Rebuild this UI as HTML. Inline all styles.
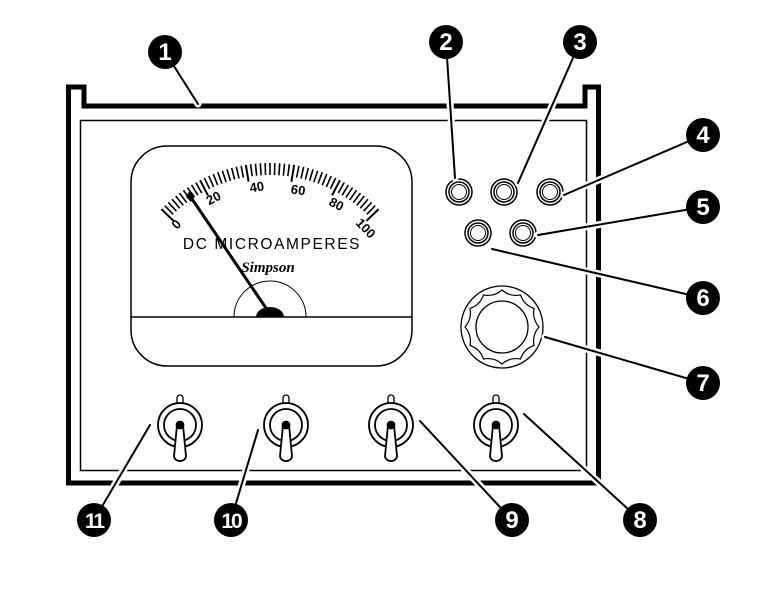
<!DOCTYPE html>
<html><head><meta charset="utf-8"><style>
body{margin:0;background:#fff}
svg{display:block}
text{font-family:"Liberation Sans",sans-serif;font-weight:bold}
</style></head><body>
<svg id="s" width="780" height="599" viewBox="0 0 780 599" xmlns="http://www.w3.org/2000/svg">
<rect width="780" height="599" fill="#fff"/>
<path d="M68.5 483 V87 H84 V106 H585 V87 H598.5 V483 Z" fill="none" stroke="#000" stroke-width="5"/>
<rect x="80.5" y="120.5" width="506" height="350" fill="none" stroke="#000" stroke-width="1.5"/>
<rect x="131" y="146" width="281" height="220" rx="36" fill="#fff" stroke="#000" stroke-width="1.5"/>
<path d="M234 317 A36 36 0 0 1 306 317" fill="none" stroke="#000" stroke-width="1"/>
<line x1="131" y1="317" x2="412" y2="317" stroke="#000" stroke-width="1.5"/>
<g id="ticks" stroke="#000"></g>
<g font-size="13">
<text transform="translate(177,225) rotate(-46)" text-anchor="middle" dominant-baseline="middle">0</text>
<text transform="translate(214,199) rotate(-27.6)" text-anchor="middle" dominant-baseline="middle">20</text>
<text transform="translate(257,188) rotate(-9.2)" text-anchor="middle" dominant-baseline="middle">40</text>
<text transform="translate(298,191) rotate(9.2)" text-anchor="middle" dominant-baseline="middle">60</text>
<text transform="translate(336,205) rotate(27.6)" text-anchor="middle" dominant-baseline="middle">80</text>
<text transform="translate(365,229) rotate(46)" text-anchor="middle" dominant-baseline="middle">100</text>
</g>
<text x="272" y="249" font-size="15.5" text-anchor="middle" letter-spacing="1.6" style="font-weight:normal">DC MICROAMPERES</text>
<text x="268" y="272" font-size="15" text-anchor="middle" font-style="italic" style="font-family:'Liberation Serif',serif">Simpson</text>
<line x1="270" y1="314" x2="190" y2="196" stroke="#000" stroke-width="3"/>
<path d="M190 190 L195 196 L191 202 L186 197 Z" fill="#000"/>
<path d="M256 317 A14 10 0 0 1 284 317 Z" fill="#000"/>
<g fill="#fff" stroke="#000">
<g stroke-width="1.5">
<circle cx="459" cy="192" r="13"/><circle cx="459" cy="192" r="10"/><circle cx="459" cy="192" r="7.5" stroke-width="1"/>
<circle cx="504" cy="192" r="13"/><circle cx="504" cy="192" r="10"/><circle cx="504" cy="192" r="7.5" stroke-width="1"/>
<circle cx="550" cy="192" r="13"/><circle cx="550" cy="192" r="10"/><circle cx="550" cy="192" r="7.5" stroke-width="1"/>
<circle cx="478" cy="233" r="13"/><circle cx="478" cy="233" r="10"/><circle cx="478" cy="233" r="7.5" stroke-width="1"/>
<circle cx="523" cy="233" r="13"/><circle cx="523" cy="233" r="10"/><circle cx="523" cy="233" r="7.5" stroke-width="1"/>
</g>
<circle cx="502" cy="327" r="41" stroke-width="1.3"/>
<path id="knob" d="" stroke-width="1.2"/>
<circle cx="502" cy="327" r="26" stroke-width="1.3"/>
</g>
<g id="tog" fill="#fff" stroke="#000" stroke-width="1.8"></g>
<g id="lead" stroke-linecap="round"></g>
<g id="nums"></g>
</svg>
<script>
var NS="http://www.w3.org/2000/svg";
function el(p,n,a){var e=document.createElementNS(NS,n);for(var k in a)e.setAttribute(k,a[k]);p.appendChild(e);return e;}
var t=document.getElementById('ticks');
for(var v=0;v<=100;v+=2){var a=(-46+0.92*v)*Math.PI/180;var maj=v%20==0;var r1=maj?134:139,r2=151;
el(t,'line',{x1:270+r1*Math.sin(a),y1:314-r1*Math.cos(a),x2:270+r2*Math.sin(a),y2:314-r2*Math.cos(a),'stroke-width':maj?2:1.6});}
var d="",cx=502,cy=327;for(var i=0;i<12;i++){var a0=i*30*Math.PI/180,a1=(i*30+30)*Math.PI/180,am=(i*30+15)*Math.PI/180;
var p0=[cx+37*Math.cos(a0),cy+37*Math.sin(a0)],p1=[cx+37*Math.cos(a1),cy+37*Math.sin(a1)],pm=[cx+31*Math.cos(am),cy+31*Math.sin(am)];
d+=(i==0?"M":"L")+p0[0]+" "+p0[1]+" Q"+pm[0]+" "+pm[1]+" "+p1[0]+" "+p1[1];}
document.getElementById('knob').setAttribute('d',d+"Z");
var g=document.getElementById('tog');
[180,286,391,496].forEach(function(x){var y=425;
el(g,'path',{d:"M"+(x-3)+" "+(y-22)+" V"+(y-27)+" A3 3 0 0 1 "+(x+3)+" "+(y-27)+" V"+(y-22),'stroke-width':1.3});
el(g,'circle',{cx:x,cy:y,r:22});el(g,'circle',{cx:x,cy:y,r:16});
el(g,'path',{d:"M"+(x-3)+" "+y+" L"+(x-6)+" "+(y+31)+" A6 5 0 0 0 "+(x+6)+" "+(y+31)+" L"+(x+3)+" "+y+" Z"});
el(g,'circle',{cx:x,cy:y,r:3.5,fill:"#000"});});
var L=[[165,52,198,104],[446,42,455,178],[580,42,518,183],[703,135,564,195],[703,207,538,235],[703,298,492,249],[703,383,545,337],[640,520,524,414],[512,520,420,421],[231,520,258,430],[94,520,150,425]];
var lg=document.getElementById('lead');
L.forEach(function(l){el(lg,'line',{x1:l[0],y1:l[1],x2:l[2],y2:l[3],stroke:'#fff','stroke-width':7});});
L.forEach(function(l){el(lg,'line',{x1:l[0],y1:l[1],x2:l[2],y2:l[3],stroke:'#000','stroke-width':2});});
var ng=document.getElementById('nums');var labs=['1','2','3','4','5','6','7','8','9','10','11'];
L.forEach(function(l,i){el(ng,'circle',{cx:l[0],cy:l[1],r:17,fill:'#000'});
var tx=el(ng,'text',{x:l[0],y:l[1]+8,'text-anchor':'middle','font-size':labs[i].length>1?21:24,fill:'#fff','letter-spacing':labs[i].length>1?-2:0});tx.textContent=labs[i];});
</script>
</body></html>
